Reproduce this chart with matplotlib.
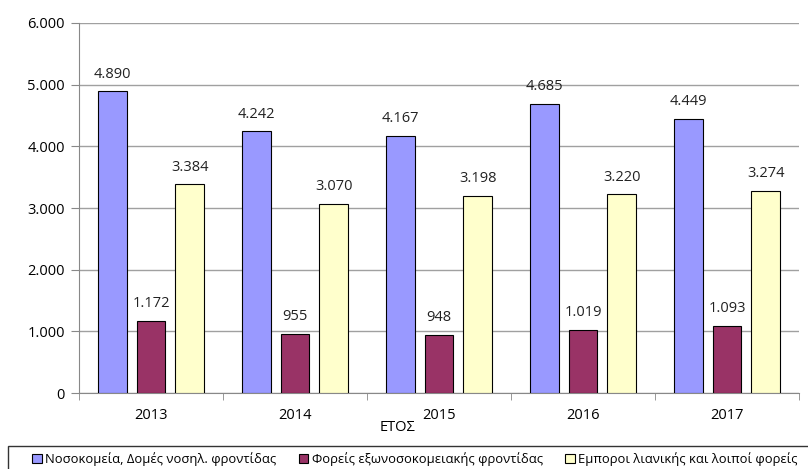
import numpy as np
import matplotlib.pyplot as plt
from matplotlib.patches import Rectangle
from matplotlib.ticker import FuncFormatter

plt.rcParams['font.family'] = ['Open Sans', 'DejaVu Sans']

years = ['2013', '2014', '2015', '2016', '2017']
hospitals = [4890, 4242, 4167, 4685, 4449]
outpatient = [1172, 955, 948, 1019, 1093]
retail = [3384, 3070, 3198, 3220, 3274]
series_names = ['Νοσοκομεία, Δομές νοσηλ. φροντίδας',
                'Φορείς εξωνοσοκομειακής φροντίδας',
                'Εμποροι λιανικής και λοιποί φορείς']
colors = ['#9999FF', '#993366', '#FFFFCC']

def dotfmt(v):
    return '{:,.0f}'.format(v).replace(',', '.')

fig = plt.figure(figsize=(8.08, 4.69), dpi=100)
ax = fig.add_axes([79 / 808, 76 / 469, 720 / 808, 370 / 469])

ind = np.arange(len(years))
width = 0.2
offsets = [-0.27, 0, 0.27]
for data, off, col, name in zip([hospitals, outpatient, retail], offsets, colors, series_names):
    bars = ax.bar(ind + off, data, width, color=col, edgecolor='black', linewidth=0.8,
                  label=name, zorder=3)
    for rect, v in zip(bars, data):
        ax.annotate(dotfmt(v), (rect.get_x() + rect.get_width() / 2, rect.get_height()),
                    xytext=(0, 7), textcoords='offset points', ha='center', va='bottom',
                    fontsize=10.5, color='#222222')

ax.set_xlim(-0.5, len(years) - 0.5)
ax.set_ylim(0, 6000)
ax.set_yticks(np.arange(0, 6001, 1000))
ax.yaxis.set_major_formatter(FuncFormatter(lambda v, p: dotfmt(v)))
ax.yaxis.grid(True, color='#A0A0A0', linewidth=1, zorder=0)
ax.set_xticks(ind)
ax.set_xticklabels(years)
ax.set_xticks(np.arange(-0.5, len(years), 1), minor=True)
ax.tick_params(axis='x', which='major', length=0, pad=11, labelsize=10.5)
ax.tick_params(axis='x', which='minor', length=5, color='#888888', direction='out')
ax.tick_params(axis='y', length=6, color='#888888', labelsize=10.5, pad=4)
for s in ['top', 'right']:
    ax.spines[s].set_visible(False)
ax.spines['left'].set_color('#888888')
ax.spines['bottom'].set_color('#888888')

ax.set_xlabel('ΕΤΟΣ', fontsize=10.5)
ax.xaxis.set_label_coords((398 - 79) / 720, -27 / 370)

fig.patches.append(Rectangle((8 / 808, -0.1), 1.1, (469 - 446) / 469 + 0.1,
                             transform=fig.transFigure, fill=False,
                             edgecolor='#333333', linewidth=1))
fig.legend(loc='center left', bbox_to_anchor=(32 / 808, 1 - 459 / 469), ncol=3,
           frameon=False, fontsize=9.4, handlelength=0.75, handleheight=0.75,
           handletextpad=0.25, columnspacing=1.7, borderpad=0, borderaxespad=0)

fig.savefig('out.png', dpi=100)
